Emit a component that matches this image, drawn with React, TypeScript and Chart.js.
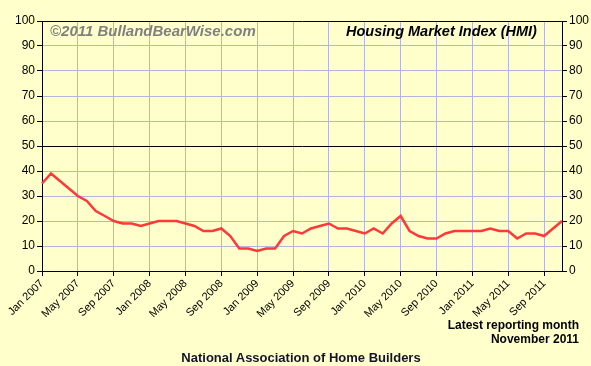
import React, { useEffect, useRef } from "react";
import { Chart, registerables } from "chart.js";

Chart.register(...registerables);

const MONTH_LABELS: string[] = [
  "Jan 2007", "Feb 2007", "Mar 2007", "Apr 2007", "May 2007", "Jun 2007", "Jul 2007", "Aug 2007", "Sep 2007", "Oct 2007", "Nov 2007", "Dec 2007",
  "Jan 2008", "Feb 2008", "Mar 2008", "Apr 2008", "May 2008", "Jun 2008", "Jul 2008", "Aug 2008", "Sep 2008", "Oct 2008", "Nov 2008", "Dec 2008",
  "Jan 2009", "Feb 2009", "Mar 2009", "Apr 2009", "May 2009", "Jun 2009", "Jul 2009", "Aug 2009", "Sep 2009", "Oct 2009", "Nov 2009", "Dec 2009",
  "Jan 2010", "Feb 2010", "Mar 2010", "Apr 2010", "May 2010", "Jun 2010", "Jul 2010", "Aug 2010", "Sep 2010", "Oct 2010", "Nov 2010", "Dec 2010",
  "Jan 2011", "Feb 2011", "Mar 2011", "Apr 2011", "May 2011", "Jun 2011", "Jul 2011", "Aug 2011", "Sep 2011", "Oct 2011", "Nov 2011",
];

const HMI_VALUES: number[] = [
  35, 39, 36, 33, 30, 28, 24, 22, 20, 19, 19, 18,
  19, 20, 20, 20, 19, 18, 16, 16, 17, 14, 9, 9,
  8, 9, 9, 14, 16, 15, 17, 18, 19, 17, 17, 16,
  15, 17, 15, 19, 22, 16, 14, 13, 13, 15, 16, 16,
  16, 16, 17, 16, 16, 13, 15, 15, 14, 17, 20,
];

const LABEL_EVERY = 4;
const GRID = "#B4B4DC";
const FONT = "'Liberation Sans', Arial, sans-serif";

export default function App() {
  const canvasRef = useRef<HTMLCanvasElement | null>(null);

  useEffect(() => {
    const canvas = canvasRef.current;
    if (!canvas) return;
    const chart = new Chart(canvas, {
      type: "line",
      data: {
        labels: MONTH_LABELS,
        datasets: [
          {
            data: HMI_VALUES,
            borderColor: "#FF3838",
            borderWidth: 2.5,
            pointRadius: 0,
            tension: 0,
            fill: false,
          },
        ],
      },
      options: {
        animation: false,
        responsive: false,
        devicePixelRatio: 1,
        layout: { padding: { top: 21, left: 0, right: 0, bottom: 0 } },
        plugins: {
          legend: { display: false },
          tooltip: { enabled: false },
        },
        scales: {
          x: {
            type: "category",
            offset: false,
            grid: {
              color: (ctx: any) => (ctx.index % LABEL_EVERY === 0 ? GRID : "rgba(0,0,0,0)"),
              tickColor: (ctx: any) => (ctx.index % LABEL_EVERY === 0 ? "#000" : "rgba(0,0,0,0)"),
              tickLength: 5,
              lineWidth: 1,
            },
            border: { color: "#000", width: 1 },
            ticks: {
              autoSkip: false,
              minRotation: 45,
              maxRotation: 45,
              padding: 1,
              color: "#000",
              font: { family: FONT, size: 11 },
              callback: function (this: any, val: any, idx: number) {
                return idx % LABEL_EVERY === 0 ? MONTH_LABELS[idx] : "";
              },
            },
            afterFit: (scale: any) => {
              scale.height = 95;
            },
          },
          y: {
            position: "left",
            min: 0,
            max: 100,
            grid: {
              color: (ctx: any) =>
                ctx.tick && (ctx.tick.value === 50 || ctx.tick.value === 100) ? "#000" : GRID,
              tickColor: "#000",
              tickLength: 5,
              lineWidth: 1,
            },
            border: { color: "#000", width: 1 },
            ticks: {
              stepSize: 10,
              padding: 2,
              color: "#000",
              font: { family: FONT, size: 12 },
            },
            afterFit: (scale: any) => {
              scale.width = 42;
            },
          },
          y2: {
            position: "right",
            min: 0,
            max: 100,
            grid: {
              drawOnChartArea: false,
              tickColor: "#000",
              tickLength: 5,
            },
            border: { color: "#000", width: 1 },
            ticks: {
              stepSize: 10,
              padding: 2,
              color: "#000",
              font: { family: FONT, size: 12 },
            },
            afterFit: (scale: any) => {
              scale.width = 29;
            },
          },
        },
      },
    });
    return () => chart.destroy();
  }, []);

  const base: React.CSSProperties = {
    position: "absolute",
    fontFamily: FONT,
    fontWeight: "bold",
    whiteSpace: "nowrap",
    margin: 0,
  };

  return (
    <div
      style={{
        position: "fixed",
        left: 0,
        top: 0,
        width: 591,
        height: 366,
        background: "#FFFFCC",
        overflow: "hidden",
      }}
    >
      <canvas ref={canvasRef} width={591} height={366} style={{ position: "absolute", left: 0, top: 0 }} />
      <div style={{ ...base, left: 50, top: 23.3, fontSize: 15, lineHeight: "15px", fontStyle: "italic", color: "#808080" }}>
        ©2011 BullandBearWise.com
      </div>
      <div style={{ ...base, left: 346, top: 23.7, fontSize: 14.5, lineHeight: "14.5px", fontStyle: "italic", color: "#000" }}>
        Housing Market Index (HMI)
      </div>
      <div style={{ ...base, right: 12, top: 319, fontSize: 12, lineHeight: "13.5px", textAlign: "right", color: "#000" }}>
        Latest reporting month
        <br />
        November 2011
      </div>
      <div style={{ ...base, left: 0, width: 602, top: 351.3, fontSize: 13, lineHeight: "13px", textAlign: "center", color: "#141428" }}>
        National Association of Home Builders
      </div>
    </div>
  );
}
